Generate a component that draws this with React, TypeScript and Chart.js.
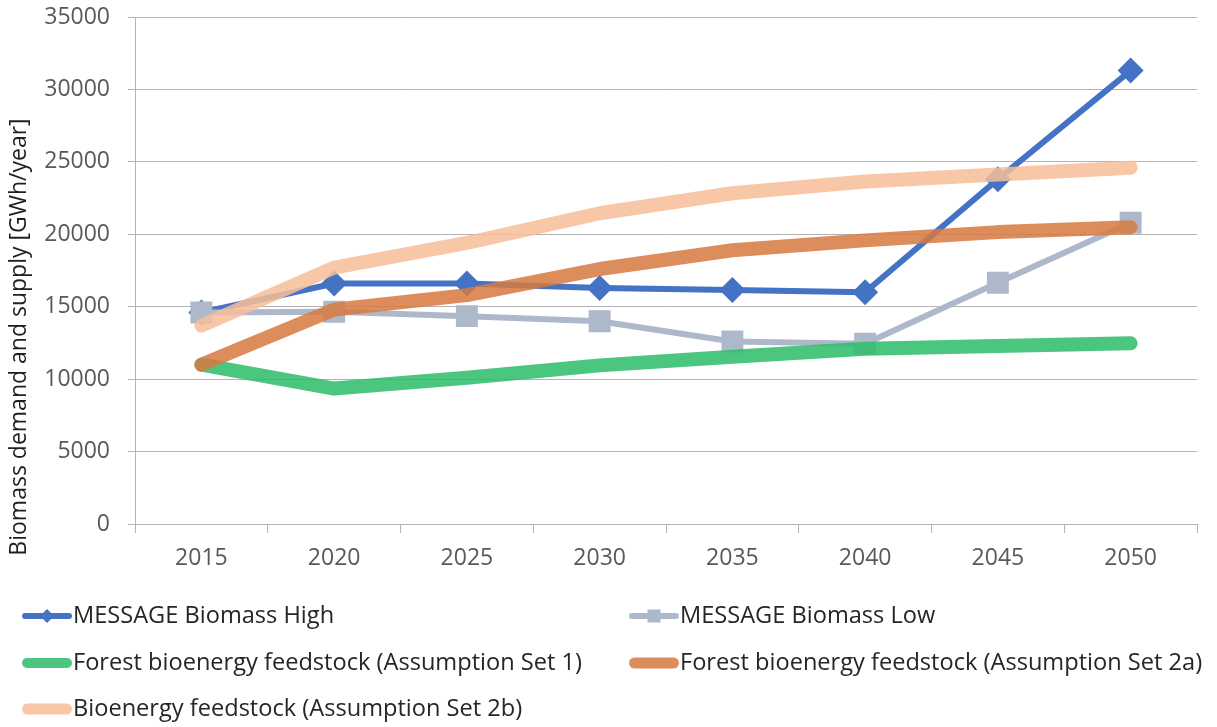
import React, { useEffect, useRef } from "react";
import { Chart, registerables } from "chart.js";

Chart.register(...registerables);

const years = ["2015", "2020", "2025", "2030", "2035", "2040", "2045", "2050"];
const messageHigh = [14600, 16600, 16600, 16300, 16150, 16000, 23800, 31300];
const messageLow = [14600, 14650, 14350, 14000, 12600, 12450, 16650, 20800];
const forestSet1 = [11000, 9350, 10100, 10950, 11550, 12100, 12280, 12470];
const forestSet2a = [11000, 14800, 15800, 17600, 18900, 19580, 20150, 20480];
const feedSet2b = [13700, 17700, 19400, 21450, 22830, 23650, 24130, 24600];

const seriesNames = [
  "MESSAGE Biomass High",
  "MESSAGE Biomass Low",
  "Forest bioenergy feedstock (Assumption Set 1)",
  "Forest bioenergy feedstock (Assumption Set 2a)",
  "Bioenergy feedstock (Assumption Set 2b)",
];
const yTitle = "Biomass demand and supply [GWh/year]";

const FONT = "'Open Sans', 'Noto Sans', sans-serif";

const legendPlugin = {
  id: "gridLegend",
  afterDraw(chart: any) {
    const ctx = chart.ctx;
    const cols = [22, 629];
    const rows = [616, 663, 709];
    const swatchW = 50;
    chart.data.datasets.forEach((ds: any, i: number) => {
      const x = cols[i % 2];
      const y = rows[Math.floor(i / 2)];
      ctx.save();
      ctx.strokeStyle = ds.borderColor;
      ctx.lineWidth = ds.legendLineWidth;
      ctx.lineCap = "round";
      ctx.beginPath();
      ctx.moveTo(x + ds.legendLineWidth / 2, y);
      ctx.lineTo(x + swatchW - ds.legendLineWidth / 2, y);
      ctx.stroke();
      const cx = x + swatchW / 2;
      ctx.fillStyle = ds.pointBackgroundColor || ds.borderColor;
      if (ds.pointStyle === "rectRot") {
        const r = 7;
        ctx.beginPath();
        ctx.moveTo(cx, y - r);
        ctx.lineTo(cx + r, y);
        ctx.lineTo(cx, y + r);
        ctx.lineTo(cx - r, y);
        ctx.closePath();
        ctx.fill();
      } else if (ds.pointStyle === "rect") {
        const s = 13;
        ctx.fillRect(cx - s / 2, y - s / 2, s, s);
      }
      ctx.fillStyle = "#262626";
      ctx.font = `23.6px ${FONT}`;
      ctx.textBaseline = "middle";
      ctx.textAlign = "left";
      ctx.fillText(ds.label, x + swatchW + 1, y);
      ctx.restore();
    });
  },
};

const yTitlePlugin = {
  id: "yTitleText",
  afterDraw(chart: any) {
    const ctx = chart.ctx;
    ctx.save();
    ctx.translate(19, 337);
    ctx.rotate(-Math.PI / 2);
    ctx.fillStyle = "#1f1f1f";
    ctx.font = `23px ${FONT}`;
    ctx.textAlign = "center";
    ctx.textBaseline = "middle";
    ctx.fillText(yTitle, 0, 0);
    ctx.restore();
  },
};

export default function App() {
  const ref = useRef<HTMLCanvasElement | null>(null);
  useEffect(() => {
    const prevMargin = document.body.style.margin;
    document.body.style.margin = "0";
    if (!ref.current) return;
    const common = {
      tension: 0,
      fill: false,
      borderCapStyle: "round",
      borderJoinStyle: "round",
    };
    const chart = new Chart(ref.current, {
      type: "line",
      data: {
        labels: years,
        datasets: [
          {
            ...common,
            label: seriesNames[0],
            data: messageHigh,
            borderColor: "#4472C4",
            backgroundColor: "#4472C4",
            pointBackgroundColor: "#4472C4",
            borderWidth: 6,
            pointStyle: "rectRot",
            pointRadius: 13,
            pointBorderWidth: 0,
            order: 4,
            legendLineWidth: 6,
          },
          {
            ...common,
            label: seriesNames[1],
            data: messageLow,
            borderColor: "#ADB9CA",
            backgroundColor: "#ADB9CA",
            pointBackgroundColor: "#ADB9CA",
            borderWidth: 6,
            pointStyle: "rect",
            pointRadius: 15.5,
            pointBorderWidth: 0,
            order: 3,
            legendLineWidth: 6,
          },
          {
            ...common,
            label: seriesNames[2],
            data: forestSet1,
            borderColor: "rgba(44,189,106,0.86)",
            backgroundColor: "rgba(44,189,106,0.86)",
            borderWidth: 14,
            pointRadius: 0,
            order: 2,
            legendLineWidth: 10,
          },
          {
            ...common,
            label: seriesNames[3],
            data: forestSet2a,
            borderColor: "rgba(214,122,64,0.86)",
            backgroundColor: "rgba(214,122,64,0.86)",
            borderWidth: 14,
            pointRadius: 0,
            order: 1,
            legendLineWidth: 11,
          },
          {
            ...common,
            label: seriesNames[4],
            data: feedSet2b,
            borderColor: "rgba(246,190,153,0.86)",
            backgroundColor: "rgba(246,190,153,0.86)",
            borderWidth: 14,
            pointRadius: 0,
            order: 0,
            legendLineWidth: 11,
          },
        ],
      } as any,
      options: {
        responsive: false,
        animation: false,
        layout: { padding: { left: 0, right: 20, top: 17, bottom: 153 } },
        plugins: {
          legend: { display: false },
          tooltip: { enabled: false },
          title: { display: false },
        },
        scales: {
          x: {
            type: "category",
            offset: true,
            grid: {
              display: true,
              offset: true,
              drawOnChartArea: false,
              drawTicks: true,
              tickLength: 9,
              color: "#B3B3B3",
            },
            border: { display: true, color: "#B3B3B3", width: 1 },
            ticks: {
              color: "#595959",
              font: { family: FONT, size: 23 },
              padding: 12,
              maxRotation: 0,
            },
            afterFit(scale: any) {
              scale.height = 50;
              scale.paddingLeft = 0;
              scale.paddingRight = 0;
            },
          },
          y: {
            min: 0,
            max: 35000,
            grid: {
              color: "#B3B3B3",
              drawTicks: true,
              tickLength: 7,
            },
            border: { display: true, color: "#B3B3B3", width: 1 },
            ticks: {
              stepSize: 5000,
              color: "#595959",
              font: { family: FONT, size: 23 },
              padding: 18,
              callback: (v: any) => String(v),
            },
            afterFit(scale: any) {
              scale.width = 135;
              scale.paddingTop = 0;
              scale.paddingBottom = 0;
            },
          },
        },
      } as any,
      plugins: [legendPlugin, yTitlePlugin],
    });
    return () => {
      chart.destroy();
      document.body.style.margin = prevMargin;
    };
  }, []);
  return (
    <div style={{ position: "absolute", left: 0, top: 0, width: 1217, height: 727, background: "#fff" }}>
      <canvas ref={ref} width={1217} height={727} style={{ display: "block", width: 1217, height: 727 }} />
    </div>
  );
}
